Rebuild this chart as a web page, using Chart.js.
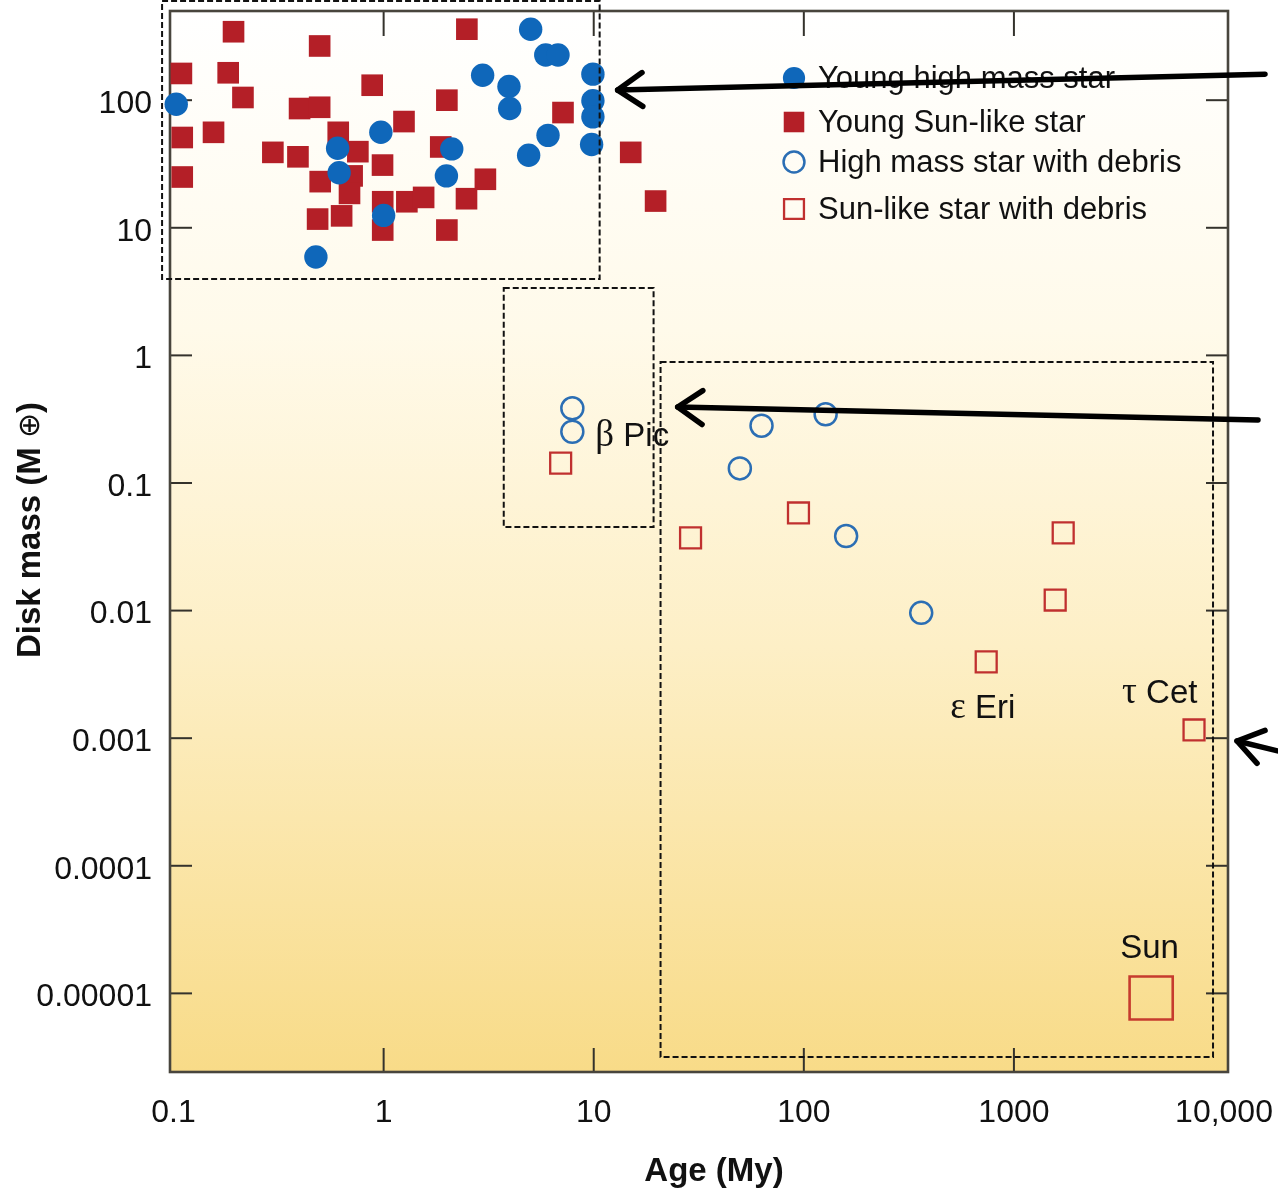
<!doctype html>
<html lang="en">
<head>
<meta charset="utf-8">
<title>Disk mass vs. age</title>
<script src="https://cdn.jsdelivr.net/npm/chart.js@4.4.1/dist/chart.umd.min.js"></script>
<style>
  html, body { margin: 0; padding: 0; background: #fff; }
  .chart-box { position: relative; width: 1278px; height: 1191px; }
</style>
</head>
<body>
<div class="chart-box"><canvas id="diskChart"></canvas></div>
<script>
// Ages in My, disk masses in Earth masses
const youngHighMassAge  = [0.103, 5.01, 5.91, 6.76, 2.96, 3.95, 3.98, 9.91, 9.91, 9.91, 9.77, 6.06, 4.90, 0.970, 0.604, 0.614, 2.11, 1.99, 1.00, 0.476];
const youngHighMassMass = [93, 360, 226, 226, 157, 128, 86, 160, 99, 74, 45, 53, 37, 56, 42, 27, 41.5, 25.5, 12.5, 5.9];

const youngSunLikeAge  = [0.193, 0.496, 2.49, 0.109, 0.182, 0.214, 0.882, 0.398, 0.496, 2.00, 7.14, 0.110, 0.155, 1.25, 0.608, 0.297, 0.391, 0.754, 0.988, 1.87, 0.110, 0.499, 0.708, 0.688, 3.05, 0.99, 1.29, 1.55, 2.48, 0.485, 0.631, 0.99, 2.00, 15.0, 19.7];
const youngSunLikeMass = [344, 266, 360, 162, 164, 105, 131, 86, 88, 100, 80, 51, 56, 68, 56, 39, 36, 39.5, 31, 43, 25, 23, 25.5, 18.6, 24, 16, 16, 17.3, 16.9, 11.7, 12.4, 9.6, 9.6, 39, 16.2];

const debrisHighMassAge  = [7.91, 7.91, 62.9, 127, 49.6, 159, 362];
const debrisHighMassMass = [0.385, 0.252, 0.281, 0.345, 0.130, 0.0384, 0.0096];

const debrisSunLikeAge  = [6.96, 28.9, 94.3, 1716, 1572, 738, 7199];
const debrisSunLikeMass = [0.143, 0.0371, 0.0582, 0.0406, 0.0121, 0.00396, 0.00116];

const sunAge  = [4500];
const sunMass = [9.2e-6];

const xTickValues = [0.1, 1, 10, 100, 1000, 10000];
const xTickLabels = ['0.1', '1', '10', '100', '1000', '10,000'];
const yTickValues = [1e-5, 1e-4, 1e-3, 0.01, 0.1, 1, 10, 100];
const yTickLabels = ['0.00001', '0.0001', '0.001', '0.01', '0.1', '1', '10', '100'];

const SANS = "'Liberation Sans', Arial, Helvetica, sans-serif";
const SERIF = "'Liberation Serif', 'Times New Roman', serif";

// named stars: greek letter, name, anchor point and text offset
const starNotes = [
  { greek: 'β', name: 'Pic', age: debrisHighMassAge, mass: debrisHighMassMass, i: 1, dx: 23, dy: 14 },
  { greek: 'ε', name: 'Eri', age: debrisSunLikeAge, mass: debrisSunLikeMass, i: 5, dx: -36, dy: 56 },
  { greek: 'τ', name: 'Cet', age: debrisSunLikeAge, mass: debrisSunLikeMass, i: 6, dx: -72, dy: -27 },
  { greek: '', name: 'Sun', age: sunAge, mass: sunMass, i: 0, dx: -31, dy: -40 }
];

// dashed group outlines, in axis units
const groupBoxes = [
  { x0: 0.0882, x1: 10.67, y0: 598, y1: 3.97 },
  { x0: 3.73, x1: 19.27, y0: 3.375, y1: 0.0452 },
  { x0: 20.8, x1: 8865, y0: 0.888, y1: 3.17e-6 }
];

// pointer arrows (tail -> head), in axis units
const pointerArrows = [
  { from: [15670, 160], to: [13.0, 120] },
  { from: [14510, 0.312], to: [25.1, 0.394] },
  { from: [18870, 7.8e-4], to: [11530, 9.5e-4] }
];

const zip = (xs, ys) => xs.map((x, i) => ({ x: x, y: ys[i] }));

const datasets = [
  {
    label: 'Young high mass star',
    data: zip(youngHighMassAge, youngHighMassMass),
    pointStyle: 'circle', pointRadius: 11.7,
    pointBackgroundColor: '#0f67ba', pointBorderColor: '#0f67ba', pointBorderWidth: 0
  },
  {
    label: 'Young Sun-like star',
    data: zip(youngSunLikeAge, youngSunLikeMass),
    pointStyle: 'rect', pointRadius: 15.3,
    pointBackgroundColor: '#b41f27', pointBorderColor: '#b41f27', pointBorderWidth: 0
  },
  {
    label: 'High mass star with debris',
    data: zip(debrisHighMassAge, debrisHighMassMass),
    pointStyle: 'circle', pointRadius: 11,
    pointBackgroundColor: 'rgba(0,0,0,0)', pointBorderColor: '#2b6eb4', pointBorderWidth: 2.5
  },
  {
    label: 'Sun-like star with debris',
    data: zip(debrisSunLikeAge, debrisSunLikeMass),
    pointStyle: 'rect', pointRadius: 14.8,
    pointBackgroundColor: 'rgba(0,0,0,0)', pointBorderColor: '#c0302f', pointBorderWidth: 2.3
  },
  {
    label: 'Sun',
    data: zip(sunAge, sunMass),
    pointStyle: 'rect', pointRadius: 30.5,
    pointBackgroundColor: 'rgba(0,0,0,0)', pointBorderColor: '#c63b2e', pointBorderWidth: 2.6
  }
];
datasets.forEach(d => { d.showLine = false; d.clip = false; });

function line(ctx, x0, y0, x1, y1) {
  ctx.beginPath();
  ctx.moveTo(x0, y0);
  ctx.lineTo(x1, y1);
  ctx.stroke();
}

// keep the plot frame where the layout padding puts it
function noEdgePadding(s) {
  s.paddingLeft = 0;
  s.paddingRight = 0;
  s.paddingTop = 0;
  s.paddingBottom = 0;
}

const paperPlugin = {
  id: 'paper',
  beforeDraw(chart) {
    const { ctx, chartArea: a } = chart;
    const g = ctx.createLinearGradient(0, a.top, 0, a.bottom);
    g.addColorStop(0, '#ffffff');
    g.addColorStop(0.3, '#fffaea');
    g.addColorStop(0.6, '#fdefc6');
    g.addColorStop(1, '#f8db88');
    ctx.save();
    ctx.fillStyle = g;
    ctx.fillRect(a.left, a.top, a.right - a.left, a.bottom - a.top);
    ctx.restore();
  },
  beforeDatasetsDraw(chart) {
    const { ctx, chartArea: a, scales } = chart;
    ctx.save();
    // inward tick marks on all four sides
    ctx.strokeStyle = '#34322c';
    ctx.lineWidth = 2;
    xTickValues.forEach(v => {
      const px = scales.x.getPixelForValue(v);
      if (px < a.left + 10 || px > a.right - 10) return;
      line(ctx, px, a.top, px, a.top + 25);
      line(ctx, px, a.bottom, px, a.bottom - 24);
    });
    yTickValues.forEach(v => {
      const py = scales.y.getPixelForValue(v);
      if (py < a.top + 10 || py > a.bottom - 10) return;
      line(ctx, a.left, py, a.left + 22, py);
      line(ctx, a.right, py, a.right - 22, py);
    });
    ctx.strokeStyle = '#48453d';
    ctx.lineWidth = 2.6;
    ctx.strokeRect(a.left, a.top, a.right - a.left, a.bottom - a.top);
    ctx.restore();
  },
  afterDatasetsDraw(chart) {
    const { ctx, scales } = chart;
    const X = v => scales.x.getPixelForValue(v);
    const Y = v => scales.y.getPixelForValue(v);
    ctx.save();

    // dashed group outlines
    ctx.strokeStyle = '#111';
    ctx.lineWidth = 2;
    ctx.setLineDash([6, 3]);
    groupBoxes.forEach(b => {
      ctx.strokeRect(X(b.x0), Y(b.y0), X(b.x1) - X(b.x0), Y(b.y1) - Y(b.y0));
    });
    ctx.setLineDash([]);

    // star names
    ctx.fillStyle = '#111';
    ctx.textBaseline = 'alphabetic';
    ctx.textAlign = 'left';
    starNotes.forEach(n => {
      let x = X(n.age[n.i]) + n.dx;
      const y = Y(n.mass[n.i]) + n.dy;
      if (n.greek) {
        ctx.font = `37px ${SERIF}`;
        ctx.fillText(n.greek, x, y);
        x += ctx.measureText(n.greek).width;
        ctx.font = `33px ${SANS}`;
        x += ctx.measureText(' ').width;
      }
      ctx.font = `33px ${SANS}`;
      ctx.fillText(n.name, x, y);
    });

    // legend
    const rowsY = [78, 122, 162, 209];
    const markX = 794, textX = 818;
    ctx.font = `31px ${SANS}`;
    ctx.textBaseline = 'middle';
    chart.data.datasets.slice(0, 4).forEach((d, k) => {
      ctx.fillStyle = d.pointBackgroundColor;
      ctx.strokeStyle = d.pointBorderColor;
      ctx.lineWidth = d.pointBorderWidth;
      Chart.helpers.drawPoint(ctx, {
        pointStyle: d.pointStyle,
        radius: d.pointRadius * 0.95,
        borderWidth: d.pointBorderWidth,
        rotation: 0
      }, markX, rowsY[k]);
      ctx.fillStyle = '#111';
      ctx.fillText(d.label, textX, rowsY[k] + 1);
    });

    // pointer arrows
    ctx.strokeStyle = '#000';
    ctx.lineWidth = 5.5;
    ctx.lineCap = 'round';
    ctx.lineJoin = 'round';
    pointerArrows.forEach(p => {
      const x0 = X(p.from[0]), y0 = Y(p.from[1]);
      const x1 = X(p.to[0]), y1 = Y(p.to[1]);
      line(ctx, x0, y0, x1, y1);
      const ang = Math.atan2(y0 - y1, x0 - x1);
      const arm = 30, spread = 0.6;
      ctx.beginPath();
      ctx.moveTo(x1 + arm * Math.cos(ang - spread), y1 + arm * Math.sin(ang - spread));
      ctx.lineTo(x1, y1);
      ctx.lineTo(x1 + arm * Math.cos(ang + spread), y1 + arm * Math.sin(ang + spread));
      ctx.stroke();
    });
    ctx.restore();
  },
  afterDraw(chart) {
    const { ctx } = chart;
    ctx.save();
    ctx.fillStyle = '#111';
    // x axis title
    ctx.font = `bold 33px ${SANS}`;
    ctx.textAlign = 'center';
    ctx.textBaseline = 'alphabetic';
    ctx.fillText('Age (My)', 714, 1181);
    // y axis title, with a light earth symbol
    const a = 'Disk mass (M ', b = '\u2295', c = ')';
    ctx.font = `bold 33px ${SANS}`;
    const wa = ctx.measureText(a).width, wc = ctx.measureText(c).width;
    ctx.font = `30px 'DejaVu Sans', sans-serif`;
    const wb = ctx.measureText(b).width;
    ctx.translate(40, 530);
    ctx.rotate(-Math.PI / 2);
    ctx.textAlign = 'left';
    let x = -(wa + wb + wc) / 2;
    ctx.font = `bold 33px ${SANS}`;
    ctx.fillText(a, x, 0);
    x += wa;
    ctx.font = `30px 'DejaVu Sans', sans-serif`;
    ctx.fillText(b, x, -1);
    x += wb;
    ctx.font = `bold 33px ${SANS}`;
    ctx.fillText(c, x, 0);
    ctx.restore();
  }
};

new Chart(document.getElementById('diskChart'), {
  type: 'scatter',
  data: { datasets: datasets },
  options: {
    responsive: true,
    maintainAspectRatio: false,
    animation: false,
    layout: { autoPadding: false, padding: { top: 11, right: 50, left: 0, bottom: 0 } },
    plugins: { legend: { display: false }, tooltip: { enabled: false } },
    scales: {
      x: {
        type: 'logarithmic',
        position: 'bottom',
        min: 0.0962,
        max: 10446,
        grid: { display: false, drawTicks: false },
        border: { display: false },
        ticks: {
          autoSkip: false, maxRotation: 0, padding: 22, color: '#111',
          font: { family: SANS, size: 32 },
          callback: (v, i) => xTickLabels[i]
        },
        afterBuildTicks: s => { s.ticks = xTickValues.map(v => ({ value: v })); },
        afterFit: s => { s.height = 119; noEdgePadding(s); }
      },
      y: {
        type: 'logarithmic',
        position: 'left',
        min: 2.42e-6,
        max: 500,
        grid: { display: false, drawTicks: false },
        border: { display: false },
        ticks: {
          autoSkip: false, padding: 18, labelOffset: 4, color: '#111',
          font: { family: SANS, size: 32 },
          callback: (v, i) => yTickLabels[i]
        },
        afterBuildTicks: s => { s.ticks = yTickValues.map(v => ({ value: v })); },
        afterFit: s => { s.width = 170; noEdgePadding(s); }
      }
    }
  },
  plugins: [paperPlugin]
});
</script>
</body>
</html>
